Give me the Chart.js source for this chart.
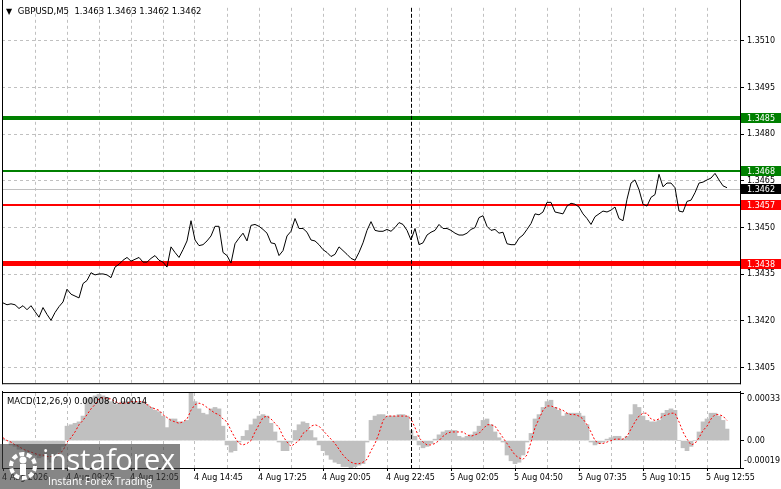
<!DOCTYPE html>
<html><head><meta charset="utf-8">
<script src="https://cdn.jsdelivr.net/npm/chart.js@4.4.1/dist/chart.umd.min.js"></script>
<style>
html,body{margin:0;padding:0;background:#fff;}
#wrap{position:relative;width:781px;height:489px;overflow:hidden;font-family:'DejaVu Sans',sans-serif;background:#fff;}
#wrap canvas{position:absolute;left:0;}
#main{top:0;}
#macd{top:391px;}
#title{position:absolute;left:6px;top:6px;font-size:8.5px;line-height:10px;color:#000;white-space:pre;}
#title .tri{font-size:8px;margin-right:3px;}
#macdTitle{position:absolute;left:7px;top:396px;font-size:8.5px;line-height:10px;color:#000;white-space:pre;}
#wm{position:absolute;left:0;top:444px;width:180px;height:45px;background:rgba(60,60,60,0.62);color:#fff;}
#wm svg{position:absolute;left:7px;top:5px;}
#wm .big{position:absolute;left:42px;top:0px;font-family:'Open Sans',sans-serif;font-size:29px;line-height:30px;letter-spacing:-0.3px;}
#wm .small{position:absolute;left:48px;top:31px;font-family:'Open Sans',sans-serif;font-size:10.5px;line-height:12px;}
</style></head>
<body>
<div id="wrap">
<canvas id="main" width="781" height="391"></canvas>
<canvas id="macd" width="781" height="98"></canvas>
<div id="title"></div>
<div id="macdTitle"></div>
<div id="wm">
<svg width="32" height="34" viewBox="0 0 32 34"><circle cx="16" cy="17" r="12" fill="none" stroke="#fff" stroke-width="4" stroke-dasharray="5 2.5"/><circle cx="16" cy="11" r="3.5" fill="#fff"/><rect x="13" y="15" width="6" height="11" fill="#fff"/></svg>
<div class="big">instaforex</div>
<div class="small">Instant Forex Trading</div>
</div>
</div>
<script>
// ---------- data ----------
const symbolName = 'GBPUSD,M5';
const ohlc = [1.3463, 1.3463, 1.3462, 1.3462];
const priceValues = [
1.34258,1.34252,1.34255,1.34252,1.34240,1.34249,1.34236,1.34249,1.34230,1.34212,
1.34243,1.34221,1.34202,1.34227,1.34246,1.34261,1.34302,1.34286,1.34280,1.34274,
1.34320,1.34330,1.34355,1.34348,1.34351,1.34351,1.34348,1.34339,1.34373,1.34382,
1.34395,1.34404,1.34392,1.34398,1.34404,1.34389,1.34389,1.34401,1.34410,1.34395,
1.34389,1.34373,1.34438,1.34420,1.34404,1.34429,1.34457,1.34522,1.34460,1.34442,
1.34445,1.34457,1.34473,1.34504,1.34504,1.34420,1.34410,1.34386,1.34448,1.34466,
1.34482,1.34457,1.34507,1.34510,1.34504,1.34494,1.34482,1.34451,1.34448,1.34410,
1.34426,1.34473,1.34488,1.34529,1.34497,1.34497,1.34485,1.34460,1.34457,1.34445,
1.34429,1.34420,1.34407,1.34414,1.34438,1.34426,1.34414,1.34401,1.34395,1.34420,
1.34451,1.34491,1.34519,1.34491,1.34488,1.34488,1.34494,1.34488,1.34500,1.34516,
1.34510,1.34491,1.34460,1.34497,1.34445,1.34451,1.34476,1.34485,1.34491,1.34510,
1.34497,1.34497,1.34491,1.34482,1.34476,1.34476,1.34482,1.34494,1.34500,1.34532,
1.34538,1.34504,1.34491,1.34494,1.34482,1.34485,1.34448,1.34445,1.34445,1.34466,
1.34476,1.34494,1.34513,1.34544,1.34541,1.34550,1.34581,1.34581,1.34550,1.34547,
1.34544,1.34569,1.34578,1.34575,1.34566,1.34544,1.34529,1.34510,1.34535,1.34544,
1.34553,1.34550,1.34556,1.34566,1.34529,1.34522,1.34591,1.34643,1.34653,1.34622,
1.34575,1.34569,1.34597,1.34606,1.34671,1.34631,1.34643,1.34643,1.34628,1.34553,
1.34550,1.34584,1.34588,1.34612,1.34643,1.34646,1.34653,1.34659,1.34674,1.34653,
1.34634,1.34628];
const macdHist = [
0.00001,0,-0.00003,-0.00004,-0.00006,-0.00006,-0.00008,-0.00008,-0.0001,-0.00012,
-0.00011,-0.00013,-0.00015,-0.00012,-0.00008,-0.00004,0.0001,0.00011,0.00012,0.00013,
0.00017,0.00029,0.0003,0.00031,0.00032,0.00031,0.0003,0.00027,0.00025,0.00026,
0.00027,0.00027,0.00027,0.00027,0.00027,0.00027,0.00025,0.00023,0.00021,0.0002,
0.00017,0.00009,0.00015,0.00015,0.00013,0.00013,0.00014,0.00033,0.00027,0.00022,
0.00019,0.00018,0.00022,0.00023,0.00022,0.0001,-0.00003,-0.00008,-0.00007,-0.00001,
0.00003,0.00007,0.00011,0.00015,0.00017,0.00018,0.00017,0.00012,0.00006,-0.00001,
-0.00007,-0.00007,-0.00001,0.00007,0.00011,0.00013,0.00012,0.00007,0.00002,-0.00003,
-0.00007,-0.0001,-0.00013,-0.00015,-0.00016,-0.00018,-0.00018,-0.00019,-0.00018,-0.00017,
-0.00016,-0.00001,0.00014,0.00017,0.00018,0.00018,0.00017,0.00017,0.00017,0.00018,
0.00018,0.00017,0.00007,0.00003,-0.00003,-0.00005,-0.00004,-0.00002,0.00001,0.00004,
0.00006,0.00007,0.00007,0.00007,0.00003,0.00002,0.00003,0.00004,0.00006,0.0001,
0.00014,0.00015,0.00011,0.00006,0.00002,-0.00001,-0.0001,-0.00014,-0.00016,-0.00015,
-0.0001,-0.00001,0.00005,0.00015,0.00018,0.00023,0.00027,0.00028,0.00023,0.00021,
0.00017,0.00019,0.00019,0.00019,0.00019,0.00017,0.00011,-0.00001,-0.00003,-0.00002,
-0.00001,0.00001,0.00002,0.00003,0.00003,0.00001,0.00003,0.00018,0.00025,0.00023,
0.00017,0.00014,0.00013,0.00013,0.00014,0.00019,0.00021,0.00022,0.00021,0,
-0.00005,-0.00007,-0.00004,0,0.00006,0.00013,0.00015,0.00019,0.00019,0.00017,
0.00014,0.00008];
const macdSignal = [
0.00002,0,-0.00001,-0.00003,-0.00004,-0.00006,-0.00007,-0.00008,-0.00009,-0.0001,
-0.0001,-0.00011,-0.00011,-0.00011,-0.00009,-0.00007,-0.00001,0.00002,0.00006,0.00011,
0.00014,0.00018,0.00022,0.00025,0.00029,0.0003,0.00029,0.00029,0.00027,0.00026,
0.00026,0.00026,0.00027,0.00027,0.00027,0.00027,0.00025,0.00023,0.00022,0.00021,
0.00018,0.00016,0.00014,0.00013,0.00012,0.00013,0.00015,0.00021,0.00025,0.00026,
0.00025,0.00023,0.00021,0.00019,0.00018,0.00015,0.00013,0.00007,0.00002,-0.00002,
-0.00003,-0.00002,0,0.00006,0.00011,0.00016,0.00017,0.00015,0.00012,0.00009,
0.00003,-0.00001,-0.00004,-0.00002,0,0.00005,0.00007,0.0001,0.00011,0.0001,
0.00007,0.00004,0.00001,-0.00002,-0.00006,-0.0001,-0.00013,-0.00015,-0.00016,-0.00016,
-0.00015,-0.00013,-0.00007,-0.00002,0.00005,0.00014,0.00017,0.00017,0.00017,0.00017,
0.00017,0.00017,0.00015,0.00009,0.00002,-0.00001,-0.00003,-0.00003,-0.00002,0,
0.00003,0.00005,0.00006,0.00006,0.00006,0.00006,0.00004,0.00003,0.00004,0.00005,
0.00008,0.00011,0.00011,0.0001,0.00006,0.00002,-0.00002,-0.00006,-0.0001,-0.00012,
-0.00013,-0.0001,-0.00001,0.00009,0.00015,0.00021,0.00024,0.00024,0.00023,0.00022,
0.00021,0.00019,0.00018,0.00018,0.00017,0.00015,0.00011,0.00006,0,-0.00002,
-0.00002,-0.00001,0,0.00001,0.00001,0.00001,0.00003,0.00008,0.00013,0.00017,
0.00019,0.00019,0.00015,0.00014,0.00015,0.00017,0.00018,0.00019,0.00019,0.00013,
0.00006,0.00001,-0.00003,-0.00002,0.00002,0.00007,0.0001,0.00015,0.00018,0.00018,
0.00017,0.00014];
const xLabelTexts = ['4 Aug 2026','4 Aug 09:25','4 Aug 12:05','4 Aug 14:45','4 Aug 17:25','4 Aug 20:05',
  '4 Aug 22:45','5 Aug 02:05','5 Aug 04:50','5 Aug 07:35','5 Aug 10:15','5 Aug 12:55'];
const yTickValues = [1.3405, 1.3420, 1.3435, 1.3450, 1.3465, 1.3480, 1.3495, 1.3510];
const macdTickValues = [-0.00019, 0, 0.00033];
const levelValues = [1.3485, 1.3468, 1.3457, 1.3438];
const bidPrice = 1.3462;
const separatorIndex = 102;

// ---------- layout / styles ----------
const FONT_FAMILY = "'DejaVu Sans', sans-serif";
const FONT = {family: FONT_FAMILY, size: 8};
const CTX_FONT = '8px ' + FONT_FAMILY;
const GRID = '#c0c0c0';
const levelStyles = [
  {color: '#008000', width: 4},
  {color: '#008000', width: 2},
  {color: '#ff0000', width: 2},
  {color: '#ff0000', width: 5}
];
const labelEvery = 16, gridEvery = 8;
const gridIdx = [];
for (let v = 0; v < priceValues.length; v += gridEvery) gridIdx.push(v);
const xMin = -0.25, xMax = 184.25;

document.getElementById('title').innerHTML =
  '<span class="tri">\u25BC</span> ' + symbolName + '  ' + ohlc.map(v => v.toFixed(4)).join(' ');
document.getElementById('macdTitle').textContent =
  'MACD(12,26,9) ' + macdHist[macdHist.length - 1].toFixed(5) + ' ' + macdSignal[macdSignal.length - 1].toFixed(5);

function drawBox(ctx, ca, y, bg, text) {
  const yy = Math.round(y) - 1;
  ctx.save();
  ctx.fillStyle = bg;
  ctx.fillRect(ca.right + 1, yy - 5, 40, 10);
  ctx.fillStyle = '#fff';
  ctx.font = CTX_FONT;
  ctx.textBaseline = 'middle';
  ctx.textAlign = 'left';
  ctx.fillText(text, ca.right + 7, yy + 0.5);
  ctx.restore();
}

const separatorPlugin = {
  id: 'separator',
  afterDatasetsDraw(chart) {
    const {ctx, chartArea: ca, scales} = chart;
    const x = Math.round(scales.x.getPixelForValue(separatorIndex)) + 0.5;
    ctx.save();
    ctx.strokeStyle = '#000';
    ctx.lineWidth = 1;
    ctx.setLineDash([4, 2]);
    ctx.beginPath();
    ctx.moveTo(x, ca.top);
    ctx.lineTo(x, ca.bottom);
    ctx.stroke();
    ctx.restore();
  }
};

const framePlugin = {
  id: 'frame',
  afterDraw(chart, args, opts) {
    const {ctx, chartArea: ca} = chart;
    ctx.save();
    ctx.fillStyle = '#000';
    ctx.fillRect(ca.left, 0, 1, ca.bottom + 1);
    ctx.fillRect(ca.right, 0, 1, ca.bottom + 1);
    ctx.fillRect(ca.left, ca.bottom, ca.right - ca.left + 1, 1);
    if (opts.top) ctx.fillRect(ca.left, ca.top - 1, ca.right - ca.left + 1, 1);
    ctx.restore();
  }
};

const levelsPlugin = {
  id: 'levels',
  beforeDatasetsDraw(chart) {
    const {ctx, chartArea: ca, scales} = chart;
    ctx.save();
    const yb = Math.round(scales.y.getPixelForValue(bidPrice)) - 1;
    ctx.fillStyle = '#c0c0c0';
    ctx.fillRect(ca.left, yb, ca.right - ca.left, 1);
    levelValues.forEach((v, i) => {
      const y = scales.y.getPixelForValue(v) - 1;
      const st = levelStyles[i];
      ctx.fillStyle = st.color;
      ctx.fillRect(ca.left, Math.round(y - st.width / 2), ca.right - ca.left, st.width);
    });
    ctx.restore();
  },
  afterDraw(chart) {
    const {ctx, chartArea: ca, scales} = chart;
    levelValues.forEach((v, i) => drawBox(ctx, ca, scales.y.getPixelForValue(v), levelStyles[i].color, v.toFixed(4)));
    drawBox(ctx, ca, scales.y.getPixelForValue(bidPrice), '#000', bidPrice.toFixed(4));
  }
};

const macdLabelsPlugin = {
  id: 'macdLabels',
  afterDraw(chart) {
    const {ctx, chartArea: ca, scales} = chart;
    ctx.save();
    ctx.fillStyle = '#000';
    ctx.font = CTX_FONT;
    ctx.textBaseline = 'middle';
    ctx.textAlign = 'left';
    macdTickValues.forEach(v => {
      let y = scales.y.getPixelForValue(v);
      y = Math.max(ca.top + 6, Math.min(ca.bottom - 7, y));
      ctx.fillText(v === 0 ? '0.00' : v.toFixed(5), ca.right + (v < 0 ? 4 : 7), y);
    });
    ctx.restore();
  }
};

new Chart(document.getElementById('main'), {
  type: 'line',
  data: {datasets: [{
    data: priceValues.map((p, i) => ({x: i, y: p})),
    borderColor: '#000', borderWidth: 1, pointRadius: 0, tension: 0, fill: false
  }]},
  options: {
    responsive: false, animation: false, events: [],
    layout: {padding: {left: 2, top: 2, right: 0, bottom: 1}},
    plugins: {legend: {display: false}, tooltip: {enabled: false}, frame: {top: false}},
    scales: {
      x: {
        type: 'linear', min: xMin, max: xMax, offset: false,
        afterBuildTicks: s => { s.ticks = gridIdx.filter(v => v > 0).map(v => ({value: v})); },
        afterFit: s => { s.height = 0; },
        ticks: {display: false},
        grid: {color: GRID, drawTicks: false, lineWidth: 1},
        border: {display: false, dash: [3, 3]}
      },
      y: {
        position: 'right', min: 1.3400, max: 1.35206,
        afterBuildTicks: s => { s.ticks = yTickValues.map(v => ({value: v})); },
        afterFit: s => { s.width = 41; },
        ticks: {font: FONT, color: '#000', padding: 3, callback: v => Number(v).toFixed(4)},
        grid: {color: GRID, tickColor: '#000', tickLength: 4, tickBorderDash: []},
        border: {display: false, dash: [3, 3]}
      }
    }
  },
  plugins: [levelsPlugin, separatorPlugin, framePlugin]
});

new Chart(document.getElementById('macd'), {
  type: 'bar',
  data: {datasets: [
    {
      type: 'line', order: 0,
      data: macdSignal.map((v, i) => ({x: i, y: v})),
      borderColor: '#ff0000', borderWidth: 1, borderDash: [2, 2], pointRadius: 0, tension: 0, fill: false
    },
    {
      type: 'bar', order: 1,
      data: macdHist.map((v, i) => ({x: i, y: v})),
      backgroundColor: '#c0c0c0', borderWidth: 0, barPercentage: 1, categoryPercentage: 1
    }
  ]},
  options: {
    responsive: false, animation: false, events: [],
    layout: {padding: {left: 2, top: 2, right: 0, bottom: 0}},
    plugins: {legend: {display: false}, tooltip: {enabled: false}, frame: {top: true}},
    scales: {
      x: {
        type: 'linear', min: xMin, max: xMax, offset: false,
        afterBuildTicks: s => { s.ticks = gridIdx.map(v => ({value: v})); },
        afterFit: s => { s.height = 21; },
        ticks: {
          font: FONT, color: '#000', padding: 2, align: 'start', labelOffset: -1,
          autoSkip: false, maxRotation: 0, minRotation: 0,
          callback: v => (v % labelEvery === 0 ? xLabelTexts[v / labelEvery] : '')
        },
        grid: {
          offset: false, lineWidth: 1, tickLength: 3, tickBorderDash: [],
          color: c => (c.tick && c.tick.value === 0 ? 'rgba(0,0,0,0)' : GRID),
          tickColor: c => (c.tick && c.tick.value % labelEvery === 0 ? '#000' : 'rgba(0,0,0,0)')
        },
        border: {display: false, dash: [3, 3]}
      },
      y: {
        position: 'right', min: -0.00019, max: 0.00033, beginAtZero: false,
        afterBuildTicks: s => { s.ticks = macdTickValues.map(v => ({value: v})); },
        afterFit: s => { s.width = 41; },
        ticks: {display: false},
        grid: {drawOnChartArea: false, tickColor: '#000', tickLength: 4, tickBorderDash: []},
        border: {display: false}
      }
    }
  },
  plugins: [separatorPlugin, framePlugin, macdLabelsPlugin]
});
</script>
</body></html>
